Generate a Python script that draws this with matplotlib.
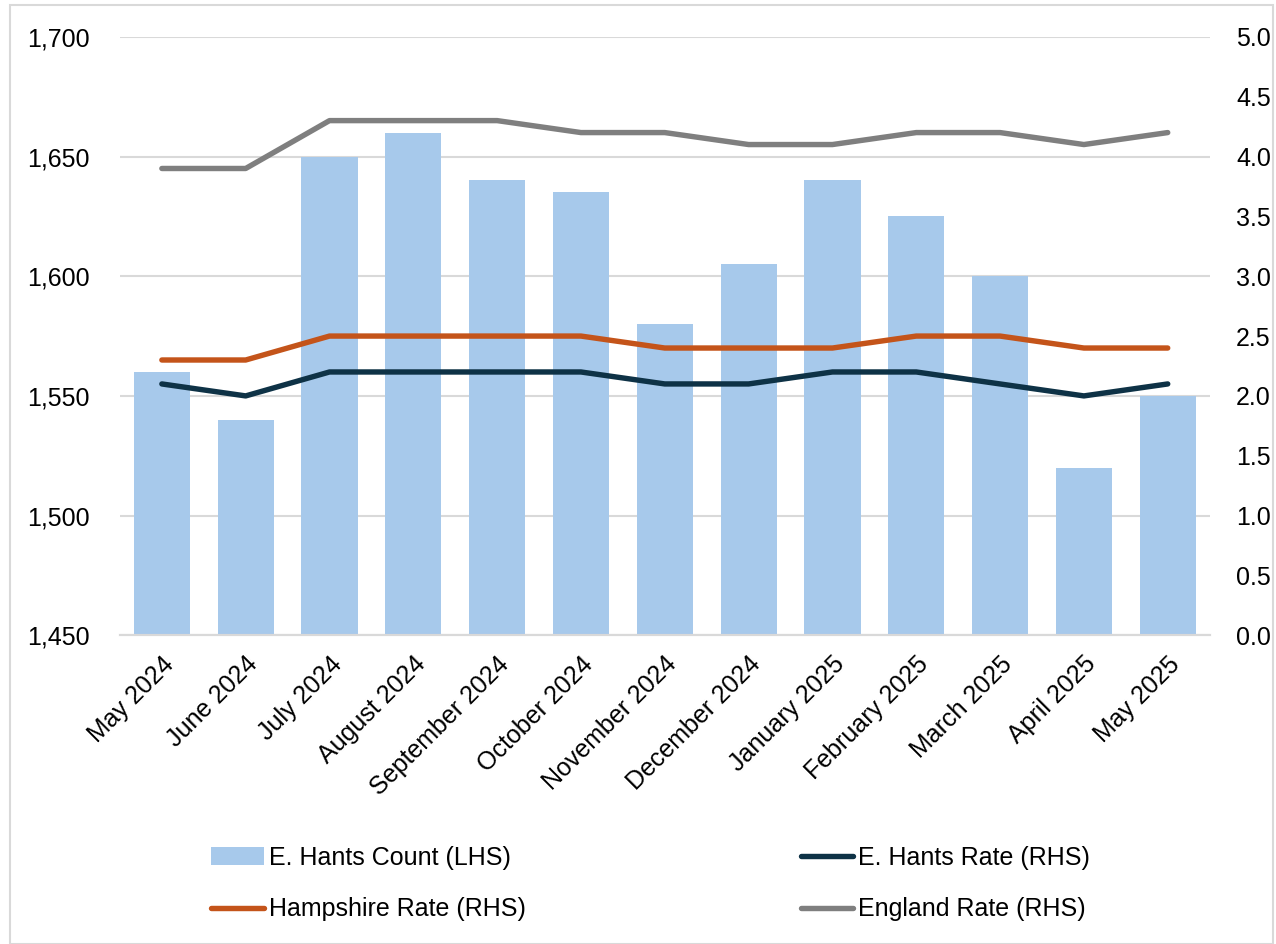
import matplotlib
matplotlib.use("Agg")
import matplotlib.pyplot as plt
from matplotlib.patches import Rectangle
import numpy as np

plt.rcParams['font.family'] = ['Liberation Sans', 'DejaVu Sans']

months = ["May 2024", "June 2024", "July 2024", "August 2024", "September 2024",
          "October 2024", "November 2024", "December 2024", "January 2025",
          "February 2025", "March 2025", "April 2025", "May 2025"]
ehants_count = [1560, 1540, 1650, 1660, 1640, 1635, 1580, 1605, 1640, 1625, 1600, 1520, 1550]
ehants_rate = [2.1, 2.0, 2.2, 2.2, 2.2, 2.2, 2.1, 2.1, 2.2, 2.2, 2.1, 2.0, 2.1]
hampshire_rate = [2.3, 2.3, 2.5, 2.5, 2.5, 2.5, 2.4, 2.4, 2.4, 2.5, 2.5, 2.4, 2.4]
england_rate = [3.9, 3.9, 4.3, 4.3, 4.3, 4.2, 4.2, 4.1, 4.1, 4.2, 4.2, 4.1, 4.2]

fig = plt.figure(figsize=(12.76, 9.44), dpi=100)
ax = fig.add_axes([0.094, 0.327, 0.854, 0.634])
ax2 = ax.twinx()

x = np.arange(len(months))
bars = ax.bar(x, ehants_count, width=0.67, color="#a7c9eb", label="E. Hants Count (LHS)", zorder=2)
ax.set_ylim(1450, 1700)
ax.set_yticks(np.arange(1450, 1701, 50))
ax.set_yticklabels([f"{v:,}" for v in range(1450, 1701, 50)])
ax.set_xlim(-0.5, len(months) - 0.5)
ax.grid(axis='y', color="#d9d9d9", lw=1.5, zorder=0)
ax.set_axisbelow(True)
ax.set_xticks(x)
ax.set_xticklabels(months, rotation=45, ha='right', rotation_mode='anchor')

lw = 3.9
l1, = ax2.plot(x, ehants_rate, color="#0e3246", lw=lw, solid_capstyle='round', label="E. Hants Rate (RHS)")
l2, = ax2.plot(x, hampshire_rate, color="#c4541a", lw=lw, solid_capstyle='round', label="Hampshire Rate (RHS)")
l3, = ax2.plot(x, england_rate, color="#7f7f7f", lw=lw, solid_capstyle='round', label="England Rate (RHS)")
ax2.set_ylim(0, 5.0)
ax2.set_yticks(np.arange(0, 5.01, 0.5))
ax2.set_yticklabels([f"{v:.1f}" for v in np.arange(0, 5.01, 0.5)])

for a in (ax, ax2):
    for s in ("left", "right", "top"):
        a.spines[s].set_visible(False)
    a.spines["bottom"].set_color("#d9d9d9")
    a.spines["bottom"].set_linewidth(1.5)
    a.tick_params(length=0, labelsize=18, colors="black")
ax.tick_params(axis='y', pad=22)
ax.tick_params(axis='x', pad=12)
ax2.tick_params(axis='y', pad=19)

fig.legend([bars, l2, l1, l3],
           ["E. Hants Count (LHS)", "Hampshire Rate (RHS)", "E. Hants Rate (RHS)", "England Rate (RHS)"],
           ncol=2, loc='center', bbox_to_anchor=(0.51, 0.064), frameon=False,
           fontsize=18, handlelength=2.1, handletextpad=0.2, columnspacing=11.0,
           labelspacing=1.1)

fig.patches.append(Rectangle((0.008, 0.0), 0.99, 0.995, transform=fig.transFigure,
                             fill=False, edgecolor="#d9d9d9", lw=1.5))

fig.savefig("out.png", dpi=100)
